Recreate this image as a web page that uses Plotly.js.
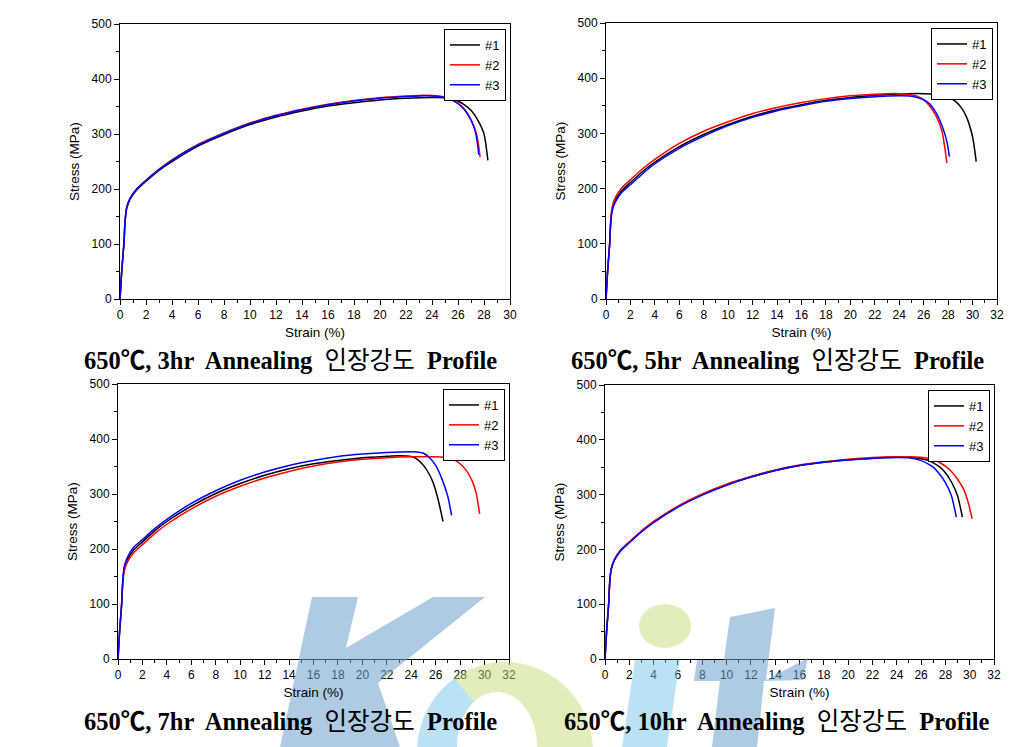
<!DOCTYPE html>
<html>
<head>
<meta charset="utf-8">
<script src="https://cdn.plot.ly/plotly-3.0.1.min.js"></script>
<style>
  body { margin: 0; background: #fff; }
  #plot { width: 1029px; height: 747px; }
</style>
</head>
<body>
<div id="plot"></div>
<script>
// 패널별 인장 곡선 (Strain %, Stress MPa)
const seriesNames = ['#1', '#2', '#3'];
const seriesColors = ['#000000', '#ff0000', '#0000ff'];
const panelHours = ['3hr', '5hr', '7hr', '10hr'];
const xMax = [30, 32, 32, 32];

// 3hr
const h3s1x = [0, 0.13, 0.3, 0.38, 0.5, 0.77, 1.28, 2, 3, 4, 6, 8, 10, 12, 14, 16, 18, 20, 22, 24, 25, 25.5, 26, 26.5, 27, 27.5, 28, 28.3];
const h3s1y = [0, 50, 100, 137, 163, 181, 198, 214, 234, 250, 278, 299, 317, 331, 342, 351, 357, 362, 365, 366.5, 366, 364, 360, 353, 343, 326, 300, 252];
const h3s2x = [0, 0.13, 0.3, 0.38, 0.5, 0.77, 1.28, 2, 3, 4, 6, 8, 10, 12, 14, 16, 18, 20, 22, 23.5, 24.5, 25, 25.5, 26, 26.5, 27, 27.3, 27.5, 27.7];
const h3s2y = [0, 50, 100, 138, 165, 183, 200, 216, 236, 253, 281, 302, 320, 334, 345, 354, 361, 366, 369, 370.5, 369, 367, 363, 356, 345, 326, 309, 292, 258];
const h3s3x = [0, 0.13, 0.3, 0.38, 0.5, 0.77, 1.28, 2, 3, 4, 6, 8, 10, 12, 14, 16, 18, 20, 22, 23.5, 24.5, 25, 25.5, 26, 26.5, 27, 27.3, 27.45, 27.6];
const h3s3y = [0, 50, 100, 138, 165, 183, 200, 216, 235, 252, 280, 301, 319, 333, 344, 353, 360, 365, 368, 369.5, 368, 366, 362, 355, 344, 325, 307, 290, 262];

// 5hr
const h5s1x = [0, 0.13, 0.3, 0.38, 0.5, 0.77, 1.28, 2, 3, 4, 6, 8, 10, 12, 14, 16, 18, 20, 22, 24, 26, 27, 28, 28.5, 29, 29.5, 30, 30.3];
const h5s1y = [0, 50, 100, 137, 162, 179, 196, 211, 231, 248, 276, 298, 316, 331, 343, 352, 360, 365, 369, 371.5, 372, 371, 366, 360, 349, 330, 294, 249];
const h5s2x = [0, 0.13, 0.3, 0.38, 0.5, 0.77, 1.28, 2, 3, 4, 6, 8, 10, 12, 14, 16, 18, 20, 22, 24, 25, 25.5, 26, 26.5, 27, 27.5, 27.9];
const h5s2y = [0, 50, 100, 139, 166, 184, 201, 216, 236, 253, 282, 304, 321, 336, 347, 356, 363, 368, 371, 372, 370, 367, 361, 349, 332, 304, 246];
const h5s3x = [0, 0.13, 0.3, 0.38, 0.5, 0.77, 1.28, 2, 3, 4, 6, 8, 10, 12, 14, 16, 18, 20, 22, 24, 25, 25.5, 26, 26.5, 27, 27.5, 27.9, 28.1];
const h5s3y = [0, 50, 100, 135, 159, 176, 193, 207, 227, 245, 273, 295, 314, 329, 341, 350, 358, 363, 366.5, 368, 367.5, 365, 361, 353, 338, 314, 285, 258];

// 7hr
const h7s1x = [0, 0.13, 0.3, 0.38, 0.5, 0.77, 1.28, 2, 3, 4, 6, 8, 10, 12, 14, 16, 18, 20, 22, 23, 24, 24.5, 25, 25.5, 25.8, 26.2, 26.6];
const h7s1y = [0, 50, 100, 137, 163, 181, 198, 213, 233, 250, 278, 301, 319, 334, 346, 355, 361, 366, 368.5, 369.5, 368, 363, 352, 335, 320, 290, 250];
const h7s2x = [0, 0.13, 0.3, 0.38, 0.5, 0.77, 1.28, 2, 3, 4, 6, 8, 10, 12, 14, 16, 18, 20, 22, 24, 26, 27, 27.5, 28, 28.5, 29, 29.3, 29.6];
const h7s2y = [0, 50, 100, 135, 159, 176, 193, 208, 228, 245, 273, 296, 314, 329, 341, 351, 358, 363, 366, 367.5, 367.5, 366, 362, 355, 343, 323, 303, 264];
const h7s3x = [0, 0.13, 0.3, 0.38, 0.5, 0.77, 1.28, 2, 3, 4, 6, 8, 10, 12, 14, 16, 18, 20, 22, 24, 24.5, 25, 25.5, 26, 26.5, 27, 27.3];
const h7s3y = [0, 50, 100, 139, 167, 185, 203, 217, 237, 254, 283, 306, 325, 340, 352, 361, 368, 372.5, 375.5, 377, 376.5, 374, 366, 352, 328, 295, 261];

// 10hr
const h10s1x = [0, 0.13, 0.3, 0.38, 0.5, 0.77, 1.28, 2, 3, 4, 6, 8, 10, 12, 14, 16, 18, 20, 22, 24, 25, 26, 26.5, 27, 27.5, 28, 28.5, 29, 29.4];
const h10s1y = [0, 50, 100, 137, 163, 181, 198, 213, 233, 250, 278, 300, 318, 332, 344, 353, 359, 363.5, 366.5, 368, 368, 365.5, 363, 358, 351, 340, 323, 298, 259];
const h10s2x = [0, 0.13, 0.3, 0.38, 0.5, 0.77, 1.28, 2, 3, 4, 6, 8, 10, 12, 14, 16, 18, 20, 22, 24, 25, 26, 27, 27.5, 28, 28.5, 29, 29.5, 29.9, 30.2];
const h10s2y = [0, 50, 100, 138, 164, 182, 199, 214, 234, 251, 279, 301, 319, 333, 345, 354, 360, 364.5, 367.5, 369, 369, 368, 364, 359, 352, 342, 328, 310, 284, 256];
const h10s3x = [0, 0.13, 0.3, 0.38, 0.5, 0.77, 1.28, 2, 3, 4, 6, 8, 10, 12, 14, 16, 18, 20, 22, 24, 25, 26, 26.5, 27, 27.5, 28, 28.5, 28.9];
const h10s3y = [0, 50, 100, 136, 162, 180, 197, 212, 232, 249, 277, 299, 317, 332, 344, 353, 359, 363, 366, 367.5, 367, 362, 357, 350, 338, 322, 298, 259];

const panels = [
    [[h3s1x, h3s1y], [h3s2x, h3s2y], [h3s3x, h3s3y]],
    [[h5s1x, h5s1y], [h5s2x, h5s2y], [h5s3x, h5s3y]],
    [[h7s1x, h7s1y], [h7s2x, h7s2y], [h7s3x, h7s3y]],
    [[h10s1x, h10s1y], [h10s2x, h10s2y], [h10s3x, h10s3y]]
];

const W = 1029, H = 747;
// plot boxes in pixels: left, top, right, bottom
const boxes = [
    [120, 24, 510, 299],
    [606, 23, 997, 299],
    [118, 384, 509, 659],
    [605, 385, 994, 659]
];
const titleCenters = [[290, 360], [777, 360], [290, 721], [777, 721]];

const tickFont = { family: 'Liberation Sans, Arial, sans-serif', size: 12, color: '#000' };
const axisTitleFont = { family: 'Liberation Sans, Arial, sans-serif', size: 13.5, color: '#000' };

const traces = [];
const layout = {
    width: W, height: H,
    margin: { l: 0, r: 0, t: 0, b: 0 },
    paper_bgcolor: '#fff', plot_bgcolor: '#fff',
    annotations: [],
    shapes: []
};

panels.forEach((curves, p) => {
    const n = p === 0 ? '' : String(p + 1);
    const [l, t, r, b] = boxes[p];
    curves.forEach(([xs, ys], i) => {
        traces.push({
            x: xs, y: ys,
            type: 'scatter', mode: 'lines',
            name: seriesNames[i],
            line: { color: seriesColors[i], width: 1.5, shape: 'spline', smoothing: 0.6 },
            xaxis: 'x' + n, yaxis: 'y' + n,
            legend: 'legend' + n
        });
    });
    layout['xaxis' + n] = {
        domain: [l / W, r / W], anchor: 'y' + n,
        range: [0, xMax[p]], dtick: 2, tick0: 0,
        ticks: 'outside', ticklen: 5, tickcolor: '#000',
        minor: { dtick: 1, ticks: 'outside', ticklen: 3, tickcolor: '#000' },
        showline: true, linecolor: '#000', linewidth: 1, mirror: true,
        showgrid: false, zeroline: false,
        tickfont: tickFont,
        title: { text: 'Strain (%)', font: axisTitleFont, standoff: 6 }
    };
    layout['yaxis' + n] = {
        domain: [1 - b / H, 1 - t / H], anchor: 'x' + n,
        range: [0, 500], dtick: 100, tick0: 0,
        ticks: 'outside', ticklen: 5, tickcolor: '#000',
        minor: { dtick: 50, ticks: 'outside', ticklen: 3, tickcolor: '#000' },
        showline: true, linecolor: '#000', linewidth: 1, mirror: true,
        showgrid: false, zeroline: false,
        tickfont: tickFont,
        title: { text: 'Stress (MPa)', font: axisTitleFont, standoff: 8 }
    };
    layout['legend' + n] = {
        x: (r - 4) / W, y: 1 - (t + 5) / H,
        xanchor: 'right', yanchor: 'top',
        bgcolor: '#fff', bordercolor: '#000', borderwidth: 1,
        font: { family: 'Liberation Sans, Arial, sans-serif', size: 13, color: '#000' },
        tracegroupgap: 0, itemwidth: 30
    };
    layout.annotations.push({
        xref: 'paper', yref: 'paper',
        x: titleCenters[p][0] / W, y: 1 - titleCenters[p][1] / H,
        xanchor: 'center', yanchor: 'middle', showarrow: false,
        text: '650℃, ' + panelHours[p] + '  Annealing  <span style="font-weight:normal">인장강도</span>  Profile',
        font: { family: 'Liberation Serif, Noto Sans CJK KR, serif', size: 24.5, color: '#000', weight: 'bold' }
    });
});

// KEIT 워터마크 (대략적인 모양)
function pth(pts) {
    return 'M' + pts.map(q => (q[0] / W).toFixed(4) + ',' + (1 - q[1] / H).toFixed(4)).join('L') + 'Z';
}
function ringPts(co, ro, ci, ri, a0, a1) {
    const pts = [];
    for (let k = 0; k <= 24; k++) {
        const a = a0 + (a1 - a0) * k / 24;
        pts.push([co[0] + ro[0] * Math.cos(a), co[1] + ro[1] * Math.sin(a)]);
    }
    for (let k = 24; k >= 0; k--) {
        const a = a0 + (a1 - a0) * k / 24;
        pts.push([ci[0] + ri[0] * Math.cos(a), ci[1] + ri[1] * Math.sin(a)]);
    }
    return pts;
}
const blueMark = 'rgba(110,160,205,0.55)';
const lightBlue = 'rgba(120,195,235,0.5)';
const greenMark = 'rgba(195,220,120,0.5)';
const deg = Math.PI / 180;
const markShapes = [
    [[[312, 597], [358, 597], [346, 648], [433, 597], [485, 597], [378, 683], [400, 747], [280, 747]], blueMark],
    [ringPts([505, 752], [88, 90], [497, 746], [40, 54], 100 * deg, 235 * deg), lightBlue],
    [ringPts([505, 752], [88, 90], [497, 746], [40, 54], 235 * deg, 375 * deg), greenMark],
    [[[635, 660], [680, 660], [667, 747], [622, 747]], lightBlue],
    [[[730, 617], [775, 608], [766, 680], [808, 658], [803, 680], [764, 681], [757, 747], [712, 747], [720, 681], [694, 681], [697, 660], [724, 660]], blueMark]
];
markShapes.forEach(([pts, c]) => {
    layout.shapes.push({ type: 'path', xref: 'paper', yref: 'paper', path: pth(pts), fillcolor: c, line: { width: 0 }, layer: 'above' });
});
layout.shapes.push({
    type: 'circle', xref: 'paper', yref: 'paper',
    x0: 639 / W, x1: 691 / W, y0: 1 - 648 / H, y1: 1 - 604 / H,
    fillcolor: greenMark, line: { width: 0 }, layer: 'above'
});

Plotly.newPlot('plot', traces, layout, { displayModeBar: false, staticPlot: true });
</script>
</body>
</html>
